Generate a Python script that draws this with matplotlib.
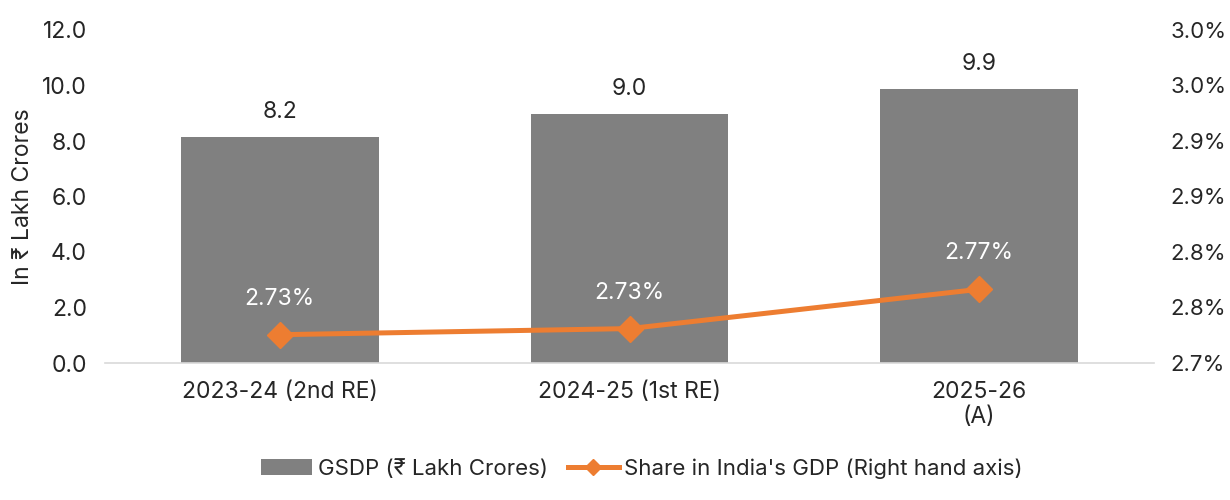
import matplotlib
matplotlib.use("Agg")
import matplotlib.pyplot as plt
from matplotlib.ticker import FuncFormatter

plt.rcParams['font.family'] = ['Inter', 'DejaVu Sans']

# данные
years = ['2023-24 (2nd RE)', '2024-25 (1st RE)', '2025-26\n(A)']
gsdp = [8.16, 8.97, 9.86]              # ₹ lakh crore
share = [2.7255, 2.7310, 2.7664]       # % of India's GDP

bar_color = '#808080'
line_color = '#ED7D31'
text_color = '#262626'
fs = 16.5

fig = plt.figure(figsize=(12.3, 5.0), dpi=100)
ax = fig.add_axes([0.0854, 0.274, 0.8528, 0.666])
ax2 = ax.twinx()

x = list(range(len(years)))
bars = ax.bar(x, gsdp, width=0.566, color=bar_color,
              label='GSDP (₹ Lakh Crores)', zorder=2)
for xi, v in zip(x, gsdp):
    ax.annotate(f'{v:.1f}', (xi, v), xytext=(0, 10), textcoords='offset points',
                ha='center', va='bottom', fontsize=fs, color=text_color)

ax.set_xlim(-0.5, 2.5)
ax.set_ylim(0, 12)
ax.set_yticks([0, 2, 4, 6, 8, 10, 12])
ax.yaxis.set_major_formatter(FuncFormatter(lambda v, p: f'{v:.1f}'))
ax.set_xticks(x)
ax.set_xticklabels(years, linespacing=1.15)
ax.tick_params(axis='both', length=0, labelsize=fs, colors=text_color)
ax.tick_params(axis='x', pad=13)
ax.tick_params(axis='y', pad=13)
ax.set_ylabel('In ₹ Lakh Crores', fontsize=fs, color=text_color, labelpad=6)

for s in ['top', 'right', 'left']:
    ax.spines[s].set_visible(False)
ax.spines['bottom'].set_color('#d9d9d9')
ax.spines['bottom'].set_linewidth(1.2)

line, = ax2.plot(x, share, color=line_color, lw=3.6, marker='D', markersize=13,
                 label="Share in India's GDP (Right hand axis)", zorder=3)
for xi, v in zip(x, share):
    ax2.annotate(f'{v:.2f}%', (xi, v), xytext=(0, 18), textcoords='offset points',
                 ha='center', va='bottom', fontsize=fs, color='white')

ax2.set_ylim(2.70, 3.00)
ax2.set_yticks([2.70, 2.75, 2.80, 2.85, 2.90, 2.95, 3.00])
ax2.yaxis.set_major_formatter(FuncFormatter(lambda v, p: f'{v + 1e-9:.1f}%'))
ax2.tick_params(axis='y', length=0, labelsize=16, colors=text_color, pad=12)
for s in ax2.spines.values():
    s.set_visible(False)

fig.legend([bars, line], [bars.get_label(), line.get_label()],
           loc='center', bbox_to_anchor=(0.522, 0.063), ncol=2, frameon=False,
           fontsize=16, handlelength=2.3, columnspacing=0.9, handletextpad=0.25,
           markerscale=0.6, labelcolor=text_color)

fig.savefig('out.png', dpi=100)
